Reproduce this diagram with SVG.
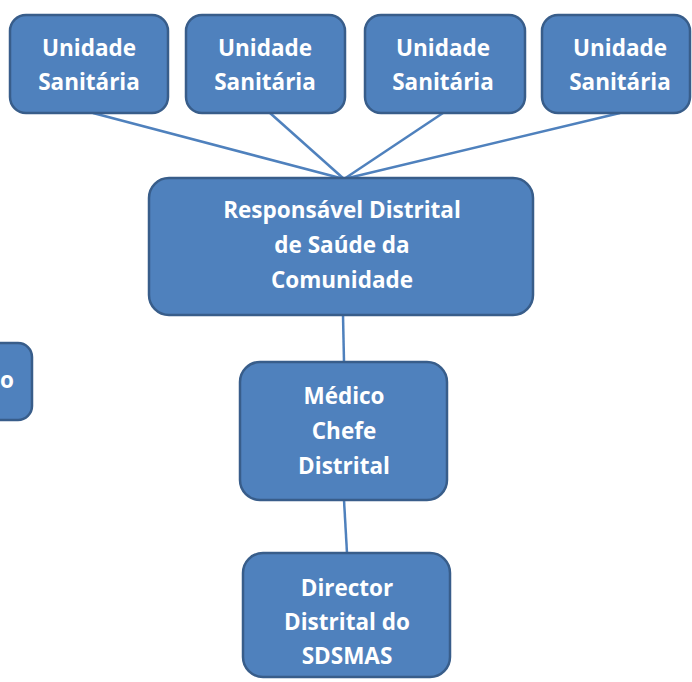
<svg xmlns="http://www.w3.org/2000/svg" width="692" height="682" viewBox="0 0 692 682">
<style>
.box{fill:#4F81BD;stroke:#385D8A;stroke-width:2.5}
.t{font-family:"Open Sans","Liberation Sans",sans-serif;font-weight:700;font-size:22.5px;fill:#FFFFFF;text-anchor:middle}
.c{stroke:#4F81BD;stroke-width:2.5;fill:none}
</style>
<rect width="692" height="682" fill="#FFFFFF"/>
<g id="connectors">
<line class="c" x1="93" y1="113" x2="344" y2="179"/>
<line class="c" x1="270" y1="113" x2="344" y2="179"/>
<line class="c" x1="443" y1="113" x2="344" y2="179"/>
<line class="c" x1="620" y1="113" x2="344" y2="179"/>
<line class="c" x1="343" y1="315" x2="344" y2="362"/>
<line class="c" x1="344" y1="500" x2="347" y2="553"/>
</g>
<g id="us1"><rect class="box" x="10" y="15" width="158" height="98" rx="16"/><text class="t" x="89" y="56">Unidade</text><text class="t" x="89" y="90">Sanitária</text></g>
<g id="us2"><rect class="box" x="186" y="15" width="159" height="98" rx="16"/><text class="t" x="265" y="56">Unidade</text><text class="t" x="265" y="90">Sanitária</text></g>
<g id="us3"><rect class="box" x="365" y="15" width="160" height="98" rx="16"/><text class="t" x="443" y="56">Unidade</text><text class="t" x="443" y="90">Sanitária</text></g>
<g id="us4"><rect class="box" x="542" y="15" width="148" height="98" rx="16"/><text class="t" x="620" y="56">Unidade</text><text class="t" x="620" y="90">Sanitária</text></g>
<g id="resp"><rect class="box" x="149" y="178" width="384" height="137" rx="20"/><text class="t" x="342" y="218">Responsável Distrital</text><text class="t" x="342" y="253">de Saúde da</text><text class="t" x="342" y="288">Comunidade</text></g>
<g id="medico"><rect class="box" x="240" y="362" width="207" height="138" rx="20"/><text class="t" x="344" y="404">Médico</text><text class="t" x="344" y="439">Chefe</text><text class="t" x="344" y="474">Distrital</text></g>
<g id="director"><rect class="box" x="243" y="553" width="207" height="124" rx="20"/><text class="t" x="347" y="596">Director</text><text class="t" x="347" y="630">Distrital do</text><text class="t" x="347" y="664">SDSMAS</text></g>
<g id="left"><rect class="box" x="-60" y="343" width="92" height="77" rx="14"/><text class="t" x="7" y="388">o</text></g>
</svg>
